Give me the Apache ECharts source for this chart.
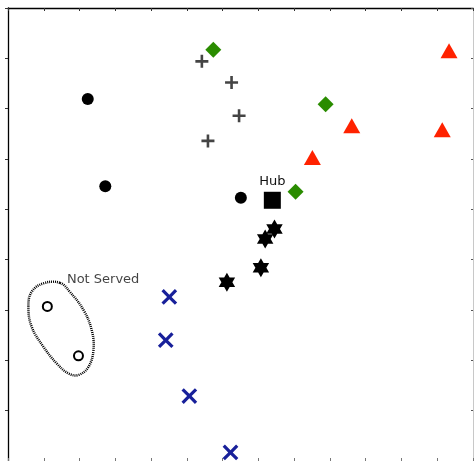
<!DOCTYPE html>
<html><head><meta charset="utf-8">
<script src="https://cdn.jsdelivr.net/npm/echarts@6/dist/echarts.min.js"></script>
<style>html,body{margin:0;padding:0;background:#fff}#c{width:474px;height:461px}</style>
</head><body><div id="c"></div>
<script>
// Data (x: 0..13, y: 0..9)
const xRange = [0, 13];
const yRange = [0, 9];
const servedCircles = [[2.23, 7.19], [2.72, 5.46], [6.51, 5.23]];
const hubPoint = [[7.39, 5.18]];
const diamonds = [[5.74, 8.17], [8.88, 7.09], [8.04, 5.35]];
const pluses = [[5.42, 7.94], [6.25, 7.52], [6.46, 6.86], [5.59, 6.36]];
const triangles = [[12.33, 8.15], [9.61, 6.66], [12.14, 6.58], [8.51, 6.03]];
const stars = [[7.45, 4.61], [7.19, 4.41], [7.07, 3.84], [6.12, 3.55]];
const crosses = [[4.51, 3.26], [4.41, 2.40], [5.07, 1.29], [6.22, 0.17]];
const notServed = [[1.10, 3.07], [1.97, 2.09]];
const notServedOutline = [[1.45, 3.54], [0.99, 3.53], [0.66, 3.36], [0.57, 3.07], [0.66, 2.67], [0.99, 2.27], [1.36, 1.94], [1.69, 1.74], [1.97, 1.71], [2.25, 1.87], [2.39, 2.21], [2.34, 2.60], [2.11, 3.00], [1.73, 3.36]];
const hubLabel = 'Hub';
const notServedLabel = 'Not Served';
const notServedLabelPos = [[2.66, 3.60]];

const PLUS = 'path://M4,0H6V4H10V6H6V10H4V6H0V4H4Z';
const CROSS = 'path://M4.15,0H5.85V4.15H10V5.85H5.85V10H4.15V5.85H0V4.15H4.15Z';
const STAR = 'path://M10,0L12.89,5L18.66,5L15.77,10L18.66,15L12.89,15L10,20L7.11,15L1.34,15L4.23,10L1.34,5L7.11,5Z';

const chart = echarts.init(document.getElementById('c'), null, {renderer: 'canvas'});
const hiddenAxisCommon = {axisLabel: {show: false}, splitLine: {show: false}};
function item(color) { return {color: color, opacity: 1}; }
chart.setOption({
  animation: false,
  backgroundColor: '#fff',
  grid: {left: 8, top: 8, width: 465, height: 453, containLabel: false},
  xAxis: [
    Object.assign({type: 'value', position: 'top', min: xRange[0], max: xRange[1], interval: 1,
      axisLine: {show: true, onZero: false, lineStyle: {color: '#000', width: 1.3}},
      axisTick: {show: true, inside: true, length: 3, lineStyle: {color: '#333'}}}, hiddenAxisCommon),
    Object.assign({type: 'value', position: 'bottom', min: xRange[0], max: xRange[1], interval: 1,
      axisLine: {show: false, onZero: false},
      axisTick: {show: true, inside: true, length: 3, lineStyle: {color: '#777'}}}, hiddenAxisCommon)
  ],
  yAxis: [
    Object.assign({type: 'value', position: 'left', min: yRange[0], max: yRange[1], interval: 1,
      axisLine: {show: true, onZero: false, lineStyle: {color: '#000', width: 1.3}},
      axisTick: {show: true, inside: false, length: 3, lineStyle: {color: '#333'}}}, hiddenAxisCommon),
    Object.assign({type: 'value', position: 'right', min: yRange[0], max: yRange[1], interval: 1,
      axisLine: {show: true, onZero: false, lineStyle: {color: '#c8c8c8', width: 1}},
      axisTick: {show: true, inside: true, length: 2, lineStyle: {color: '#555'}}}, hiddenAxisCommon)
  ],
  series: [
    {type: 'custom', silent: true, z: 1, data: notServedOutline,
      renderItem: function (params, api) {
        if (params.dataIndex !== 0) return null;
        const pts = notServedOutline.map(p => api.coord(p));
        return {type: 'polygon', shape: {points: pts, smooth: 0.4},
          style: {fill: 'none', stroke: '#000', lineWidth: 2.5, lineDash: [1, 1]}};
      }},
    {type: 'scatter', data: servedCircles, symbol: 'circle', symbolSize: 12, itemStyle: item('#000')},
    {type: 'scatter', data: hubPoint, symbol: 'rect', symbolSize: 17, itemStyle: item('#000'),
      label: {show: true, position: 'top', distance: 4, formatter: hubLabel, color: '#111',
        fontFamily: 'DejaVu Sans', fontSize: 13}},
    {type: 'scatter', data: diamonds, symbol: 'diamond', symbolSize: 16, itemStyle: item('#2a8c00')},
    {type: 'scatter', data: pluses, symbol: PLUS, symbolSize: 13, itemStyle: item('#444')},
    {type: 'scatter', data: triangles, symbol: 'triangle', symbolSize: [17, 15], itemStyle: item('#ff2200')},
    {type: 'scatter', data: stars, symbol: STAR, symbolKeepAspect: true, symbolSize: 19, itemStyle: item('#000')},
    {type: 'scatter', data: crosses, symbol: CROSS, symbolRotate: 45, symbolSize: 19, itemStyle: item('#18209a')},
    {type: 'scatter', data: notServed, symbol: 'circle', symbolSize: 9,
      itemStyle: {color: '#fff', borderColor: '#000', borderWidth: 2, opacity: 1}},
    {type: 'scatter', data: notServedLabelPos, symbolSize: 0, silent: true,
      label: {show: true, position: 'inside', formatter: notServedLabel, color: '#111',
        fontFamily: 'DejaVu Sans', fontSize: 13}}
  ]
});
</script></body></html>
